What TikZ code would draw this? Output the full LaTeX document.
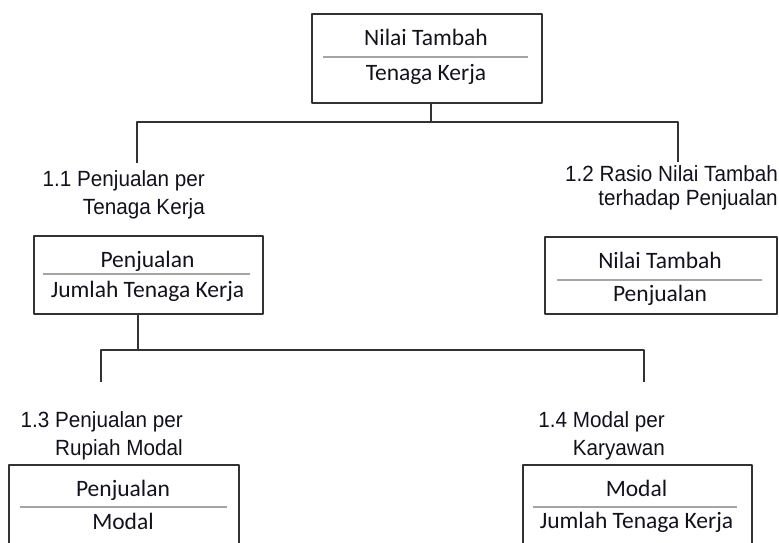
\documentclass[tikz,border=0pt]{standalone}
\usepackage{fontspec}
\newfontfamily\lblfont[FakeStretch=0.94]{Liberation Sans}
\newfontfamily\boxfont{Carlito}
\definecolor{ink}{RGB}{18,18,30}
\definecolor{edge}{RGB}{50,50,50}
\definecolor{rule}{RGB}{165,165,165}
\tikzset{
 box/.style={draw=edge, line width=1.8pt, inner sep=0pt, anchor=north west},
 frac/.style={font=\boxfont\fontsize{23.5}{27}\selectfont, text=ink, anchor=base, inner sep=0pt},
 lbl/.style={font=\lblfont\fontsize{22}{28}\selectfont, text=ink, align=right, anchor=base east, inner sep=0pt},
 conn/.style={draw=edge, line width=1.5pt},
 bar/.style={draw=rule, line width=2pt}
}
\begin{document}
\begin{tikzpicture}[x=1pt, y=-1pt, line join=round]
 \useasboundingbox (0,0) rectangle (779,542);
 \clip (0,0) rectangle (779,542);
 % nilai tambah / tenaga kerja
 \node[box, minimum width=230pt, minimum height=89pt] (top) at (311,13) {};
 \node[frac] (topA) at (426,45) {Nilai Tambah};
 \node[frac] (topB) at (426,80) {Tenaga Kerja};
 \draw[bar] (323,57) -- (528,57);
 % 1.1 dan 1.2
 \node[lbl] (l11) at (205,214) {1.1 Penjualan per\\Tenaga Kerja};
 \node[lbl, font=\lblfont\fontsize{22}{24}\selectfont] (l12) at (778,205) {1.2 Rasio Nilai Tambah\\terhadap Penjualan};
 \node[box, minimum width=229pt, minimum height=78pt] (b11) at (33,235) {};
 \node[frac] (b11A) at (147.5,267) {Penjualan};
 \node[frac] (b11B) at (147.5,297) {Jumlah Tenaga Kerja};
 \draw[bar] (43,274) -- (250,274);
 \node[box, minimum width=232pt, minimum height=77pt] (b12) at (544,236) {};
 \node[frac] (b12A) at (660,268) {Nilai Tambah};
 \node[frac] (b12B) at (660,301) {Penjualan};
 \draw[bar] (557,280) -- (762,280);
 % 1.3 dan 1.4
 \node[lbl] (l13) at (183,455) {1.3 Penjualan per\\Rupiah Modal};
 \node[lbl] (l14) at (665,455) {1.4 Modal per\\Karyawan};
 \node[box, minimum width=230pt, minimum height=100pt] (b13) at (8,464) {};
 \node[frac] (b13A) at (123,496) {Penjualan};
 \node[frac] (b13B) at (123,529) {Modal};
 \draw[bar] (20,507) -- (227,507);
 \node[box, minimum width=229pt, minimum height=100pt] (b14) at (522,464) {};
 \node[frac] (b14A) at (636.5,496) {Modal};
 \node[frac] (b14B) at (636.5,528) {Jumlah Tenaga Kerja};
 \draw[bar] (533,507) -- (737,507);
 % garis penghubung
 \coordinate (t1) at (431,122);
 \coordinate (e11) at (137,163);
 \coordinate (e12) at (678,162);
 \draw[conn] (top.south -| t1) -- (t1);
 \draw[conn] (e11) |- (t1) -| (e12);
 \coordinate (t2) at (138,350);
 \coordinate (e13) at (101,382);
 \coordinate (e14) at (644,382);
 \draw[conn] (b11.south -| t2) -- (t2);
 \draw[conn] (e13) |- (t2) -| (e14);
\end{tikzpicture}
\end{document}
